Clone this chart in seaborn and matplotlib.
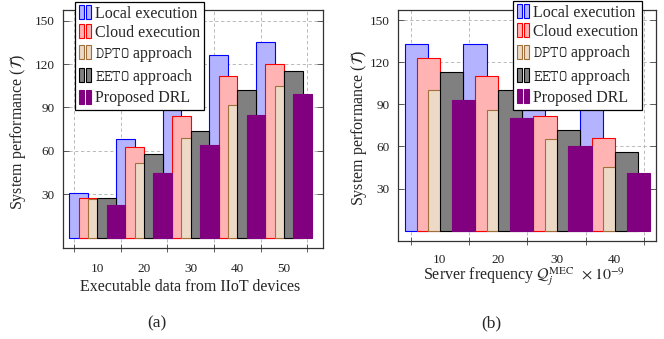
import matplotlib
matplotlib.use("Agg")
import matplotlib.pyplot as plt
import seaborn as sns
import pandas as pd
from matplotlib.legend_handler import HandlerBase
from matplotlib.patches import Rectangle, Patch

# ---------------- data ----------------
methods = ["Local execution", "Cloud execution", "DPTO approach", "EETO approach", "Proposed DRL"]
legend_labels = ["Local execution", "Cloud execution", r"$\mathtt{DPTO}$ approach",
                 r"$\mathtt{EETO}$ approach", "Proposed DRL"]

cats_a = ["10", "20", "30", "40", "50"]
local_a = [31, 68, 98, 126, 135]
cloud_a = [27.5, 63, 84, 112, 120]
dpto_a = [26.5, 52, 69, 92, 105]
eeto_a = [27.5, 58, 74, 102, 115]
drl_a = [22.5, 45, 64, 85, 99]

cats_b = ["10", "20", "30", "40"]
local_b = [133, 133, 118, 102]
cloud_b = [123, 110, 82, 66]
dpto_b = [100, 86, 65, 45]
eeto_b = [113, 100, 72, 56]
drl_b = [93, 80, 60, 41]

fills = ["#B3B3FF", "#FFB3B3", "#ECD9C6", "#808080", "#800080"]
edges = ["#0000FF", "#FF0000", "#A0703A", "#000000", "#800080"]

sns.set_theme(style="white")
plt.rcParams["font.family"] = ["Liberation Serif", "DejaVu Serif"]
plt.rcParams["mathtext.fontset"] = "stix"


def make_df(cats, series):
    rows = []
    for m, vals in zip(methods, series):
        for c, v in zip(cats, vals):
            rows.append({"x": c, "method": m, "value": v})
    return pd.DataFrame(rows)


class TwoBarHandler(HandlerBase):
    def create_artists(self, legend, orig_handle, xdescent, ydescent,
                       width, height, fontsize, trans):
        fc = orig_handle.get_facecolor()
        ec = orig_handle.get_edgecolor()
        bw = width * 0.40
        h = height * 1.25
        y0 = -ydescent - height * 0.1
        r1 = Rectangle((-xdescent, y0), bw, h, facecolor=fc, edgecolor=ec,
                       linewidth=0.8, transform=trans)
        r2 = Rectangle((-xdescent + width - bw, y0), bw, h, facecolor=fc,
                       edgecolor=ec, linewidth=0.8, transform=trans)
        return [r1, r2]


fig = plt.figure(figsize=(6.64, 3.39), dpi=100)
axA = fig.add_axes([63 / 664, 1 - 248.3 / 339, 260 / 664, 238.3 / 339])
axB = fig.add_axes([398 / 664, 1 - 240.7 / 339, 257.7 / 664, 230.7 / 339])


def draw(ax, cats, series, xlim, xlabel, xlabel_y, ylabel_x, tickpad, leg_anchor, leg_loc):
    df = make_df(cats, series)
    sns.barplot(data=df, x="x", y="value", hue="method", hue_order=methods,
                palette=fills, order=cats, width=1.0, gap=-1, saturation=1,
                legend=False, ax=ax, zorder=2)
    for cont, ec in zip(ax.containers, edges):
        for p in cont:
            p.set_edgecolor(ec)
            p.set_linewidth(0.8)
    n = len(cats)
    ax.set_xlim(*xlim)
    ax.set_ylim(-7.2, 157.3)
    ax.set_yticks([30, 60, 90, 120, 150])
    ax.set_xticks(range(n))
    ax.set_xticklabels(cats)
    ax.set_xticks([i - 0.5 for i in range(n + 1)], minor=True)
    ax.tick_params(axis="x", which="major", length=0, pad=tickpad, labelsize=9.5, colors="#222222")
    ax.tick_params(axis="x", which="minor", direction="inout", length=6, width=0.6,
                   bottom=True, color="#444444")
    ax.tick_params(axis="y", which="major", direction="in", length=4, width=0.6,
                   left=True, right=True, pad=6, labelsize=9.5, color="#444444",
                   labelcolor="#222222")
    ax.grid(False)
    ax.grid(True, axis="y", which="major", linestyle=(0, (4, 3)), color="#b0b0b0", linewidth=0.6, zorder=0)
    ax.grid(True, axis="x", which="minor", linestyle=(0, (4, 3)), color="#b0b0b0", linewidth=0.6, zorder=0)
    ax.set_axisbelow(True)
    for s in ax.spines.values():
        s.set_color("#333333")
        s.set_linewidth(0.9)
    ax.set_xlabel(xlabel, fontsize=11.5)
    ax.xaxis.set_label_coords(0.49, xlabel_y)
    ax.xaxis.label.set_va("center")
    ax.set_ylabel(r"System performance ($\mathcal{T}$)", fontsize=11.5)
    ax.yaxis.set_label_coords(ylabel_x, 0.49)
    ax.yaxis.label.set_va("center")
    handles = [Patch(facecolor=f, edgecolor=e) for f, e in zip(fills, edges)]
    leg = ax.legend(handles, legend_labels, loc=leg_loc, bbox_to_anchor=leg_anchor,
                    borderaxespad=0, fontsize=11.5, frameon=True, fancybox=False,
                    handlelength=0.75, handletextpad=0.25, labelspacing=0.2,
                    borderpad=0.25, handler_map={Patch: TwoBarHandler()})
    leg.get_frame().set_edgecolor("black")
    leg.get_frame().set_linewidth(0.9)
    leg.get_frame().set_alpha(1)
    leg.set_zorder(10)


draw(axA, cats_a, [local_a, cloud_a, dpto_a, eeto_a, drl_a], (-0.736, 4.835),
     "Executable data from IIoT devices", -0.162, -0.173, 10.5, (0.046, 1.035), "upper left")
draw(axB, cats_b, [local_b, cloud_b, dpto_b, eeto_b, drl_b], (-0.718, 3.7),
     r"Server frequency $\mathcal{Q}_j^{\mathrm{MEC}}$  $\times\, 10^{-9}$", -0.156, -0.151, 9.5,
     (0.947, 1.039), "upper right")

fig.text(157 / 664, 1 - 323 / 339, "(a)", ha="center", va="center", fontsize=12.5)
fig.text(491 / 664, 1 - 323 / 339, "(b)", ha="center", va="center", fontsize=12.5)

fig.savefig("out.png", dpi=100)
